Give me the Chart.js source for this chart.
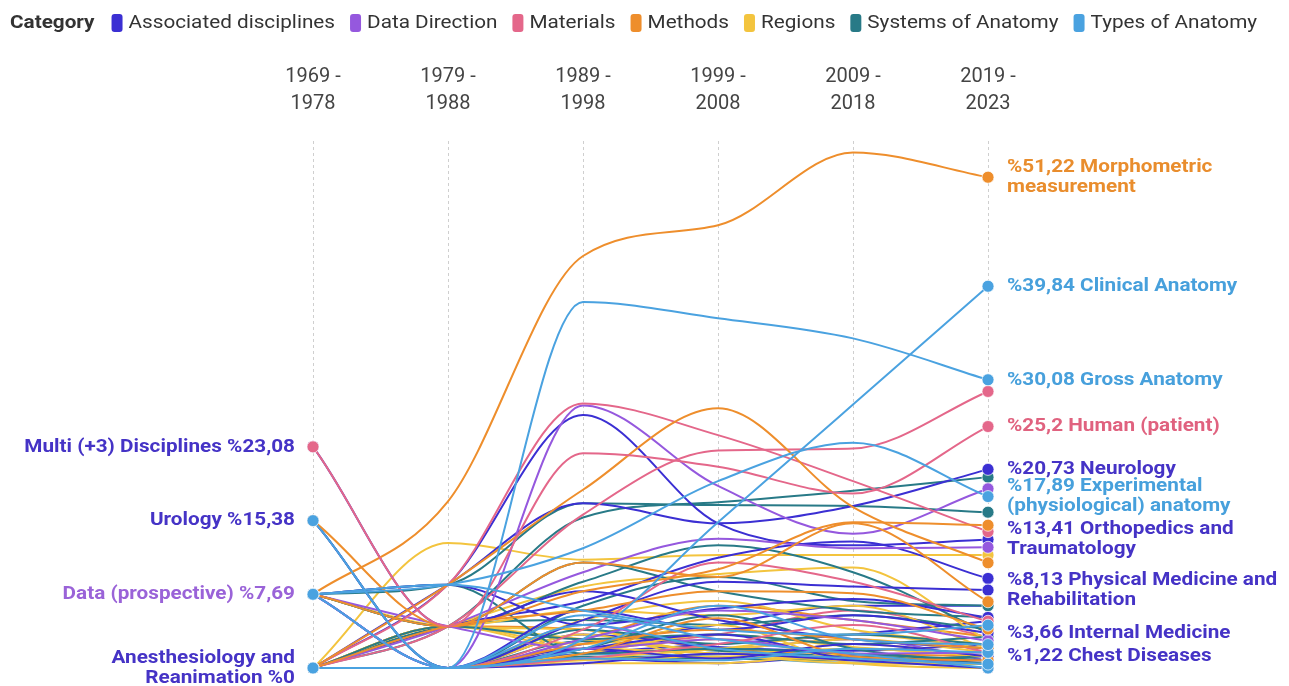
<!DOCTYPE html>
<html>
<head>
<meta charset="utf-8">
<script src="https://cdn.jsdelivr.net/npm/chart.js@4.4.1/dist/chart.umd.min.js"></script>
<style>
  html, body { margin: 0; padding: 0; background: #fff; }
  canvas { display: block; }
</style>
</head>
<body>
<canvas id="bumpChart" width="1289" height="686"></canvas>
<script>
// periods on the x axis
const periods = [
  ["1969 -", "1978"], ["1979 -", "1988"], ["1989 -", "1998"],
  ["1999 -", "2008"], ["2009 -", "2018"], ["2019 -", "2023"],
];

const categories = [
  "Associated disciplines", "Data Direction", "Materials", "Methods",
  "Regions", "Systems of Anatomy", "Types of Anatomy",
];
const categoryColors = ["#3b2fd3", "#9558de", "#e4678a", "#ee8e2c", "#f3c43e", "#287a87", "#4aa2e0"];
const labelColors = ["#4533c6", "#9a63d8", "#e0627f", "#e98d2d", "#e0b030", "#287a87", "#47a0dc"];

// one entry per line: name, category index, share (%) per period
const seriesNames = [
  "Gross Anatomy", "Clinical Anatomy", "Experimental (physiological) anatomy",
  "Types of Anatomy 4", "Types of Anatomy 5", "Types of Anatomy 6", "Types of Anatomy 7", "Types of Anatomy 8",
  "Human (patient)",
  "Morphometric measurement", "Methods 2", "Methods 3", "Methods 4", "Methods 5", "Methods 6", "Methods 7",
  "Materials 2", "Materials 3", "Materials 4", "Materials 5",
  "Data (prospective)", "Data Direction 2", "Data Direction 3", "Data Direction 4",
  "Neurology", "Orthopedics and Traumatology", "Physical Medicine and Rehabilitation",
  "Internal Medicine", "Chest Diseases", "Urology", "Multi (+3) Disciplines",
  "Anesthesiology and Reanimation", "Associated disciplines 9", "Associated disciplines 10",
  "Systems of Anatomy 1", "Systems of Anatomy 2", "Systems of Anatomy 3", "Systems of Anatomy 4",
  "Systems of Anatomy 5", "Systems of Anatomy 6", "Systems of Anatomy 7", "Systems of Anatomy 8",
  "Systems of Anatomy 9",
  "Regions 1", "Regions 2", "Regions 3", "Regions 4", "Regions 5", "Regions 6", "Regions 7",
  "Regions 8", "Regions 9",
  "Regions 10", "Regions 11", "Regions 12", "Regions 13", "Regions 14",
  "Systems of Anatomy 10", "Systems of Anatomy 11", "Systems of Anatomy 12",
  "Associated disciplines 11", "Associated disciplines 12", "Associated disciplines 13", "Associated disciplines 14",
  "Types of Anatomy 9", "Methods 8", "Methods 9", "Data Direction 5", "Materials 6",
];
const seriesCategory = [
  6, 6, 6, 6, 6, 6, 6, 6,
  2,
  3, 3, 3, 3, 3, 3, 3,
  2, 2, 2, 2,
  1, 1, 1, 1,
  0, 0, 0, 0, 0, 0, 0, 0, 0, 0,
  5, 5, 5, 5, 5, 5, 5, 5, 5,
  4, 4, 4, 4, 4, 4, 4, 4, 4,
  4, 4, 4, 4, 4,
  5, 5, 5,
  0, 0, 0, 0,
  6, 3, 3, 1, 2,
];
const seriesValues = [
  [15.38, 0, 38.2, 36.5, 34.4, 30.08],
  [0, 0, 3.0, 15.2, 27.5, 39.84],
  [7.69, 8.7, 12.5, 19.5, 23.5, 17.89],
  [7.69, 8.7, 6.0, 4.0, 3.5, 4.47],
  [0, 0, 2.0, 6.5, 3.0, 2.44],
  [0, 0, 1.0, 0.8, 2.0, 1.63],
  [7.69, 0, 4.5, 2.0, 1.0, 0.41],
  [0, 0, 5.5, 3.0, 1.5, 0],
  [23.08, 4.35, 22.4, 21.0, 18.2, 25.2],
  [7.69, 17.39, 43.0, 46.2, 53.8, 51.22],
  [0, 8.7, 18.6, 27.1, 16.8, 10.98],
  [15.38, 4.35, 8.0, 10.3, 15.2, 14.9],
  [0, 4.35, 6.0, 8.0, 7.8, 4.07],
  [0, 0, 2.5, 4.0, 3.0, 2.03],
  [0, 0, 1.5, 5.2, 1.2, 0.81],
  [7.69, 4.35, 11.0, 9.5, 15.1, 6.91],
  [0, 8.7, 27.6, 24.3, 19.5, 14.23],
  [0, 4.35, 16.0, 22.7, 22.9, 28.86],
  [0, 0, 4.0, 11.0, 9.0, 4.88],
  [0, 0, 1.0, 2.5, 4.5, 1.63],
  [7.69, 4.35, 2.0, 3.0, 1.5, 1.63],
  [7.69, 0, 27.4, 19.0, 14.0, 18.7],
  [0, 4.35, 10.0, 13.5, 12.5, 12.6],
  [0, 0, 3.0, 6.0, 5.0, 2.85],
  [0, 8.7, 17.2, 15.1, 16.9, 20.73],
  [0, 8.7, 26.4, 15.1, 12.8, 13.41],
  [0, 0, 5.0, 9.0, 8.5, 8.13],
  [7.69, 0, 6.0, 4.0, 5.5, 3.66],
  [0, 0, 2.0, 1.0, 2.5, 1.22],
  [15.38, 0, 2.0, 3.5, 1.0, 0.81],
  [23.08, 4.35, 8.0, 5.0, 3.0, 2.03],
  [0, 0, 0.5, 1.5, 0.8, 0],
  [7.69, 8.7, 4.5, 6.2, 7.2, 5.28],
  [0, 4.35, 7.0, 11.5, 13.2, 9.35],
  [7.69, 8.7, 17.2, 17.0, 16.9, 16.26],
  [0, 4.35, 15.7, 17.3, 18.5, 19.92],
  [15.38, 0, 6.5, 9.5, 7.0, 6.5],
  [7.69, 4.35, 11.0, 8.0, 6.0, 5.28],
  [0, 4.35, 3.0, 3.5, 2.5, 3.25],
  [7.69, 8.7, 1.5, 2.0, 1.5, 0.81],
  [0, 0, 4.0, 2.5, 3.5, 2.44],
  [0, 0, 2.0, 5.5, 2.0, 0.41],
  [7.69, 4.35, 9.0, 12.8, 10.0, 3.66],
  [0, 13.04, 11.3, 11.8, 11.8, 11.79],
  [0, 4.35, 8.5, 9.8, 10.5, 2.85],
  [0, 0, 3.5, 1.0, 2.5, 1.22],
  [0, 4.35, 2.0, 3.0, 1.0, 0.41],
  [0, 0, 1.0, 2.0, 3.5, 2.03],
  [7.69, 4.35, 4.0, 1.5, 2.0, 1.22],
  [0, 0, 5.0, 7.0, 4.0, 2.44],
  [0, 0, 0.5, 0.5, 1.5, 0.41],
  [0, 4.35, 2.5, 4.5, 0.5, 0],
  [0, 0, 2.0, 1.5, 0.8, 0.81],
  [0, 4.35, 3.0, 2.0, 3.0, 1.63],
  [0, 0, 1.5, 3.5, 2.2, 1.22],
  [0, 0, 0.8, 1.2, 0.5, 0.41],
  [7.69, 4.35, 6.0, 5.5, 6.5, 2.03],
  [0, 0, 1.2, 1.0, 0.8, 1.22],
  [0, 4.35, 5.0, 4.5, 5.5, 4.07],
  [0, 0, 2.8, 1.8, 1.2, 0.81],
  [0, 0, 1.5, 2.5, 3.5, 4.88],
  [0, 0, 3.5, 2.2, 1.8, 2.44],
  [0, 0, 1.0, 0.5, 1.2, 0.41],
  [7.69, 0, 2.5, 4.5, 6.5, 6.5],
  [0, 0, 1.5, 1.2, 0.5, 0.81],
  [0, 4.35, 4.0, 2.0, 1.5, 1.22],
  [0, 0, 3.0, 6.5, 5.0, 3.25],
  [0, 0, 4.5, 2.0, 3.0, 0.81],
  [0, 0, 2.0, 3.5, 6.0, 3.25],
];

// annotations at the first period
const startLabelValues = [23.08, 15.38, 7.69, 0];
const startLabelTexts = [
  ["Multi (+3) Disciplines %23,08"], ["Urology %15,38"],
  ["Data (prospective) %7,69"], ["Anesthesiology and", "Reanimation %0"],
];
const startLabelCategory = [0, 0, 1, 0];

// annotations at the last period
const endLabelValues = [51.22, 39.84, 30.08, 25.2, 20.73, 17.89, 13.41, 8.13, 3.66, 1.22];
const endLabelTexts = [
  ["%51,22 Morphometric", "measurement"], ["%39,84 Clinical Anatomy"], ["%30,08 Gross Anatomy"],
  ["%25,2 Human (patient)"], ["%20,73 Neurology"], ["%17,89 Experimental", "(physiological) anatomy"],
  ["%13,41 Orthopedics and", "Traumatology"], ["%8,13 Physical Medicine and", "Rehabilitation"],
  ["%3,66 Internal Medicine"], ["%1,22 Chest Diseases"],
];
const endLabelCategory = [3, 6, 6, 2, 0, 6, 0, 0, 0, 0];

const STRETCH = 1.09;

function stretchedText(ctx, text, x, y, align) {
  ctx.save();
  ctx.translate(x, y);
  ctx.scale(STRETCH, 1);
  ctx.textAlign = align;
  ctx.fillText(text, 0, 0);
  ctx.restore();
}

const labelsPlugin = {
  id: "bumpLabels",
  afterDatasetsDraw(chart) {
    const ctx = chart.ctx;
    const xs = chart.scales.x;
    const ys = chart.scales.y;
    const lh = 20;
    ctx.save();
    ctx.font = "bold 19px Roboto";
    ctx.textBaseline = "middle";

    const xEnd = xs.getPixelForValue(periods.length - 1) + 19;
    endLabelValues.forEach((v, i) => {
      const lines = endLabelTexts[i];
      const cy = ys.getPixelForValue(v);
      ctx.fillStyle = labelColors[endLabelCategory[i]];
      lines.forEach((t, j) => stretchedText(ctx, t, xEnd, cy + (j - (lines.length - 1) / 2) * lh, "left"));
    });

    const xStart = xs.getPixelForValue(0) - 18;
    startLabelValues.forEach((v, i) => {
      const lines = startLabelTexts[i];
      const cy = ys.getPixelForValue(v);
      ctx.fillStyle = labelColors[startLabelCategory[i]];
      lines.forEach((t, j) => stretchedText(ctx, t, xStart, cy + (j - (lines.length - 1) / 2) * lh, "right"));
    });

    // legend row
    const ly = 23;
    let x = 10;
    ctx.fillStyle = "#333";
    ctx.font = "bold 19px Roboto";
    stretchedText(ctx, "Category", x, ly, "left");
    x += ctx.measureText("Category").width * STRETCH + 17;
    ctx.font = "19px Roboto";
    categories.forEach((c, i) => {
      ctx.fillStyle = categoryColors[i];
      ctx.beginPath();
      ctx.roundRect(x, ly - 9, 11, 18, 3);
      ctx.fill();
      x += 11 + 6;
      ctx.fillStyle = "#333";
      stretchedText(ctx, c, x, ly, "left");
      x += ctx.measureText(c).width * STRETCH + 15;
    });
    ctx.restore();
  },
};

const datasets = seriesValues.map((vals, i) => {
  const col = categoryColors[seriesCategory[i]];
  return {
    label: seriesNames[i],
    data: vals,
    borderColor: col,
    backgroundColor: col,
    borderWidth: 2,
    cubicInterpolationMode: "monotone",
    pointRadius: vals.map((v, j) => (j === 0 || j === vals.length - 1 ? 6 : 0)),
    pointHoverRadius: 0,
    pointBorderColor: "rgba(255,255,255,0.7)",
    pointBorderWidth: 1,
    clip: false,
  };
});

new Chart(document.getElementById("bumpChart"), {
  type: "line",
  data: { labels: periods, datasets: datasets },
  plugins: [labelsPlugin],
  options: {
    responsive: false,
    animation: false,
    layout: { padding: { left: 313, right: 301, top: 39, bottom: 18 } },
    plugins: {
      legend: { display: false },
      tooltip: { enabled: false },
    },
    scales: {
      x: {
        position: "top",
        offset: false,
        grid: { color: "#cfcfcf", drawTicks: false },
        border: { display: false, dash: [3, 3] },
        ticks: {
          color: "#444",
          font: { family: "Roboto", size: 20, lineHeight: 1.35 },
          padding: 24,
          maxRotation: 0,
          autoSkip: false,
        },
      },
      y: { display: false, min: 0, max: 55 },
    },
  },
});
</script>
</body>
</html>
